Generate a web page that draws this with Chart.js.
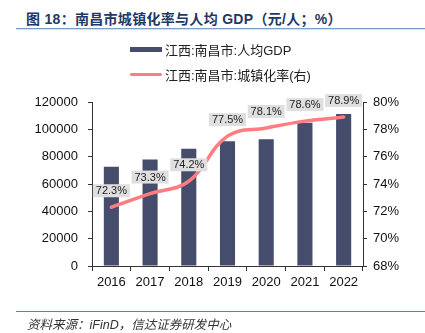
<!DOCTYPE html>
<html>
<head>
<meta charset="utf-8">
<script src="https://cdn.jsdelivr.net/npm/chart.js@4.4.0/dist/chart.umd.min.js"></script>
<style>
  html, body { margin: 0; padding: 0; background: #fff; }
  #wrap { position: relative; width: 425px; height: 333px; overflow: hidden; font-family: "Liberation Sans", Arial, "Noto Sans CJK SC", sans-serif; }
  #title { position: absolute; left: 26px; top: 8px; font-size: 14px; font-weight: bold; color: #1F3864; white-space: nowrap; letter-spacing: 0.3px; }
  #tline { position: absolute; left: 16px; right: 0; top: 28px; height: 1px; background: #7F9CC4; border-bottom: 1px solid #D5DFEE; }
  #bline { position: absolute; left: 16px; right: 0; top: 311px; height: 1px; background: #4F81BD; }
  #source { position: absolute; left: 27px; top: 314px; font-size: 12.5px; font-style: italic; color: #333; white-space: nowrap; }
  #legend { position: absolute; left: 130px; top: 37px; font-size: 13px; color: #222; }
  .lrow { display: flex; align-items: center; height: 25px; white-space: nowrap; }
  .sw { width: 32px; margin-right: 3px; }
  #c { position: absolute; left: 0; top: 0; }
</style>
</head>
<body>
<div id="wrap">
  <div id="title">图 18：南昌市城镇化率与人均 GDP（元/人；%）</div>
  <div id="tline"></div>
  <canvas id="c" width="425" height="333"></canvas>
  <div id="legend"></div>
  <div id="bline"></div>
  <div id="source">资料来源：iFinD，信达证券研发中心</div>
</div>
<script>
const categories = ["2016", "2017", "2018", "2019", "2020", "2021", "2022"];
const gdpPerCapita = [72600, 78000, 85800, 91200, 92700, 104900, 111200];
const urbanRate = [72.3, 73.3, 74.2, 77.5, 78.1, 78.6, 78.9];
const seriesNames = ["江西:南昌市:人均GDP", "江西:南昌市:城镇化率(右)"];
const barColor = "#464C6C";
const lineColor = "#FF7C80";

// HTML legend
const lg = document.getElementById("legend");
lg.innerHTML =
  '<div class="lrow"><div class="sw" style="height:5px;background:' + barColor + '"></div>' + seriesNames[0] + '</div>' +
  '<div class="lrow"><div class="sw" style="height:3px;border-radius:2px;background:' + lineColor + '"></div>' + seriesNames[1] + '</div>';

const labelPlugin = {
  id: "pctLabels",
  afterDatasetsDraw(chart) {
    const meta = chart.getDatasetMeta(0);
    const ctx = chart.ctx;
    ctx.save();
    ctx.font = '11px "Liberation Sans", Arial, sans-serif';
    ctx.textAlign = "center";
    ctx.textBaseline = "middle";
    meta.data.forEach((pt, i) => {
      const txt = urbanRate[i].toFixed(1) + "%";
      const w = 37, h = 13;
      const cx = pt.x, cy = pt.y - 16.5;
      ctx.fillStyle = "#DFDFDF";
      ctx.fillRect(cx - w / 2, cy - h / 2, w, h);
      ctx.fillStyle = "#222";
      ctx.fillText(txt, cx, cy + 0.5);
    });
    ctx.restore();
  }
};

const axisFont = { family: '"Liberation Sans", Arial, sans-serif', size: 13 };

new Chart(document.getElementById("c"), {
  type: "bar",
  data: {
    labels: categories,
    datasets: [
      {
        type: "line",
        label: seriesNames[1],
        data: urbanRate,
        yAxisID: "y1",
        borderColor: lineColor,
        borderWidth: 3.5,
        tension: 0.4,
        pointRadius: 0,
        borderCapStyle: "round",
        order: 0
      },
      {
        type: "bar",
        label: seriesNames[0],
        data: gdpPerCapita,
        yAxisID: "y",
        backgroundColor: barColor,
        borderWidth: 0,
        barPercentage: 0.39,
        categoryPercentage: 1,
        order: 1
      }
    ]
  },
  options: {
    responsive: false,
    animation: false,
    layout: { padding: { left: 35, right: 12, top: 102, bottom: 37 } },
    plugins: { legend: { display: false }, tooltip: { enabled: false } },
    scales: {
      x: {
        grid: { display: true, drawOnChartArea: false, drawTicks: true, tickLength: 5, color: "#333", offset: true },
        border: { display: true, color: "#333", width: 1 },
        ticks: { font: axisFont, color: "#111", padding: 4, maxRotation: 0 },
        afterFit(s) { s.height = 30; }
      },
      y: {
        position: "left",
        min: 0, max: 120000,
        grid: { drawOnChartArea: false, drawTicks: true, tickLength: 4, color: "#333" },
        border: { display: true, color: "#333", width: 1 },
        ticks: { stepSize: 20000, font: axisFont, color: "#111", padding: 10, callback: v => String(v) },
        afterFit(s) { s.width = 57; }
      },
      y1: {
        position: "right",
        min: 68, max: 80,
        grid: { drawOnChartArea: false, drawTicks: true, tickLength: 4, color: "#333" },
        border: { display: true, color: "#333", width: 1 },
        ticks: { stepSize: 2, font: axisFont, color: "#111", padding: 6, callback: v => v + "%" },
        afterFit(s) { s.width = 50; }
      }
    }
  },
  plugins: [labelPlugin]
});
</script>
</body>
</html>
